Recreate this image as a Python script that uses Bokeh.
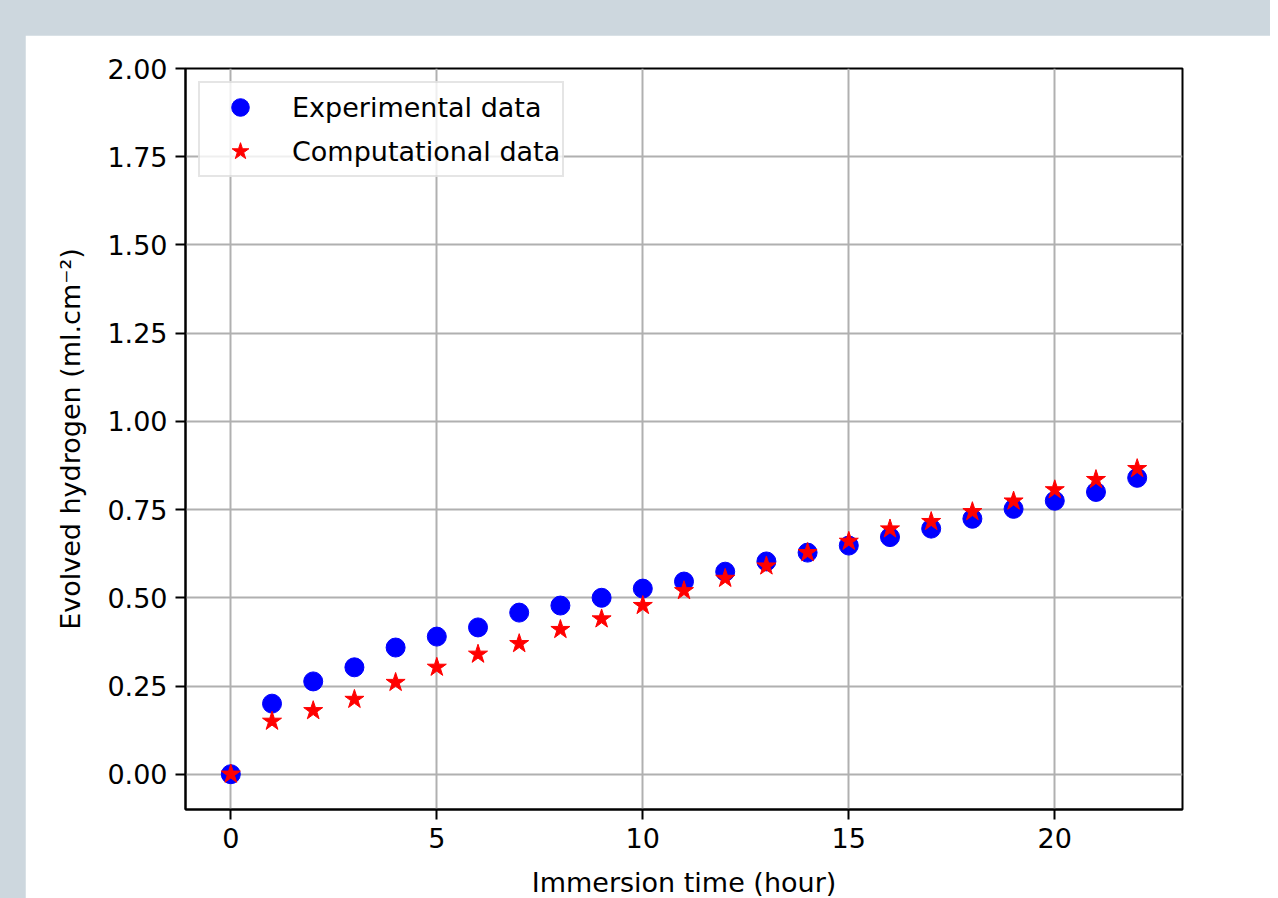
from bokeh.plotting import figure
from bokeh.models import Range1d, FixedTicker, NumeralTickFormatter, Spacer, Legend, LegendItem
from bokeh.layouts import column, row
from bokeh.embed import file_html
from bokeh.resources import INLINE

hours = list(range(23))
experimental = [0.0, 0.20, 0.263, 0.303, 0.359, 0.39, 0.416, 0.458, 0.478, 0.50, 0.526,
                0.546, 0.574, 0.603, 0.628, 0.648, 0.672, 0.696, 0.724, 0.752, 0.775, 0.80, 0.84]
computational = [0.0, 0.15, 0.18, 0.212, 0.26, 0.303, 0.34, 0.37, 0.41, 0.44, 0.478,
                 0.52, 0.555, 0.59, 0.628, 0.66, 0.695, 0.716, 0.744, 0.774, 0.806, 0.835, 0.866]
x_ticks = [0, 5, 10, 15, 20]
y_ticks = [0.0, 0.25, 0.5, 0.75, 1.0, 1.25, 1.5, 1.75, 2.0]

FONT = "DejaVu Sans"
FS = "27px"

p = figure(frame_width=997, frame_height=741,
           min_border_left=160, min_border_right=88, min_border_top=33, min_border_bottom=81,
           x_range=Range1d(-1.1, 23.1), y_range=Range1d(-0.1, 2.0),
           output_backend="svg", toolbar_location=None,
           background_fill_color="white", border_fill_color="white")

p.outline_line_color = "black"
p.outline_line_width = 2
p.outline_line_alpha = 1

for ax in (p.xaxis[0], p.yaxis[0]):
    ax.axis_line_color = "black"
    ax.axis_line_width = 2
    ax.major_tick_line_color = "black"
    ax.major_tick_line_width = 2
    ax.major_tick_out = 10
    ax.major_tick_in = 0
    ax.minor_tick_line_color = None
    ax.major_label_text_font = FONT
    ax.major_label_text_font_size = FS
    ax.major_label_text_color = "black"
    ax.axis_label_text_font = FONT
    ax.axis_label_text_font_size = FS
    ax.axis_label_text_font_style = "normal"
    ax.axis_label_text_color = "black"
    ax.major_label_standoff = 8

p.xaxis.ticker = FixedTicker(ticks=x_ticks)
p.yaxis.ticker = FixedTicker(ticks=y_ticks)
p.yaxis.formatter = NumeralTickFormatter(format="0.00")
p.xaxis.axis_label = "Immersion time (hour)"
p.yaxis.axis_label = "Evolved hydrogen (ml.cm\u207b\u00b2)"
p.xaxis.axis_label_standoff = 16
p.yaxis.axis_label_standoff = 18

p.grid.grid_line_color = "#b0b0b0"
p.grid.grid_line_width = 2
p.xgrid.ticker = FixedTicker(ticks=x_ticks)
p.ygrid.ticker = FixedTicker(ticks=y_ticks)

r1 = p.scatter(hours, experimental, marker="circle", size=19,
               fill_color="blue", line_color="blue")
r2 = p.scatter(hours, computational, marker="star", size=20,
               fill_color="red", line_color="red")

legend = Legend(items=[LegendItem(label="Experimental data", renderers=[r1]),
                       LegendItem(label="Computational data", renderers=[r2])],
                location="top_left")
legend.margin = 13
legend.padding = 2
legend.spacing = -2
legend.glyph_width = 76
legend.glyph_height = 44
legend.label_height = 44
legend.label_standoff = 14
legend.label_text_font = FONT
legend.label_text_font_size = FS
legend.label_text_color = "black"
legend.border_line_color = "#cccccc"
legend.border_line_width = 2
legend.background_fill_color = "white"
legend.background_fill_alpha = 0.8
p.add_layout(legend)

lay = column(Spacer(width=1270, height=35),
             row(Spacer(width=25, height=855), p),
             styles={"background-color": "#cdd7de"})

open("out.html", "w").write(file_html(lay, INLINE))
